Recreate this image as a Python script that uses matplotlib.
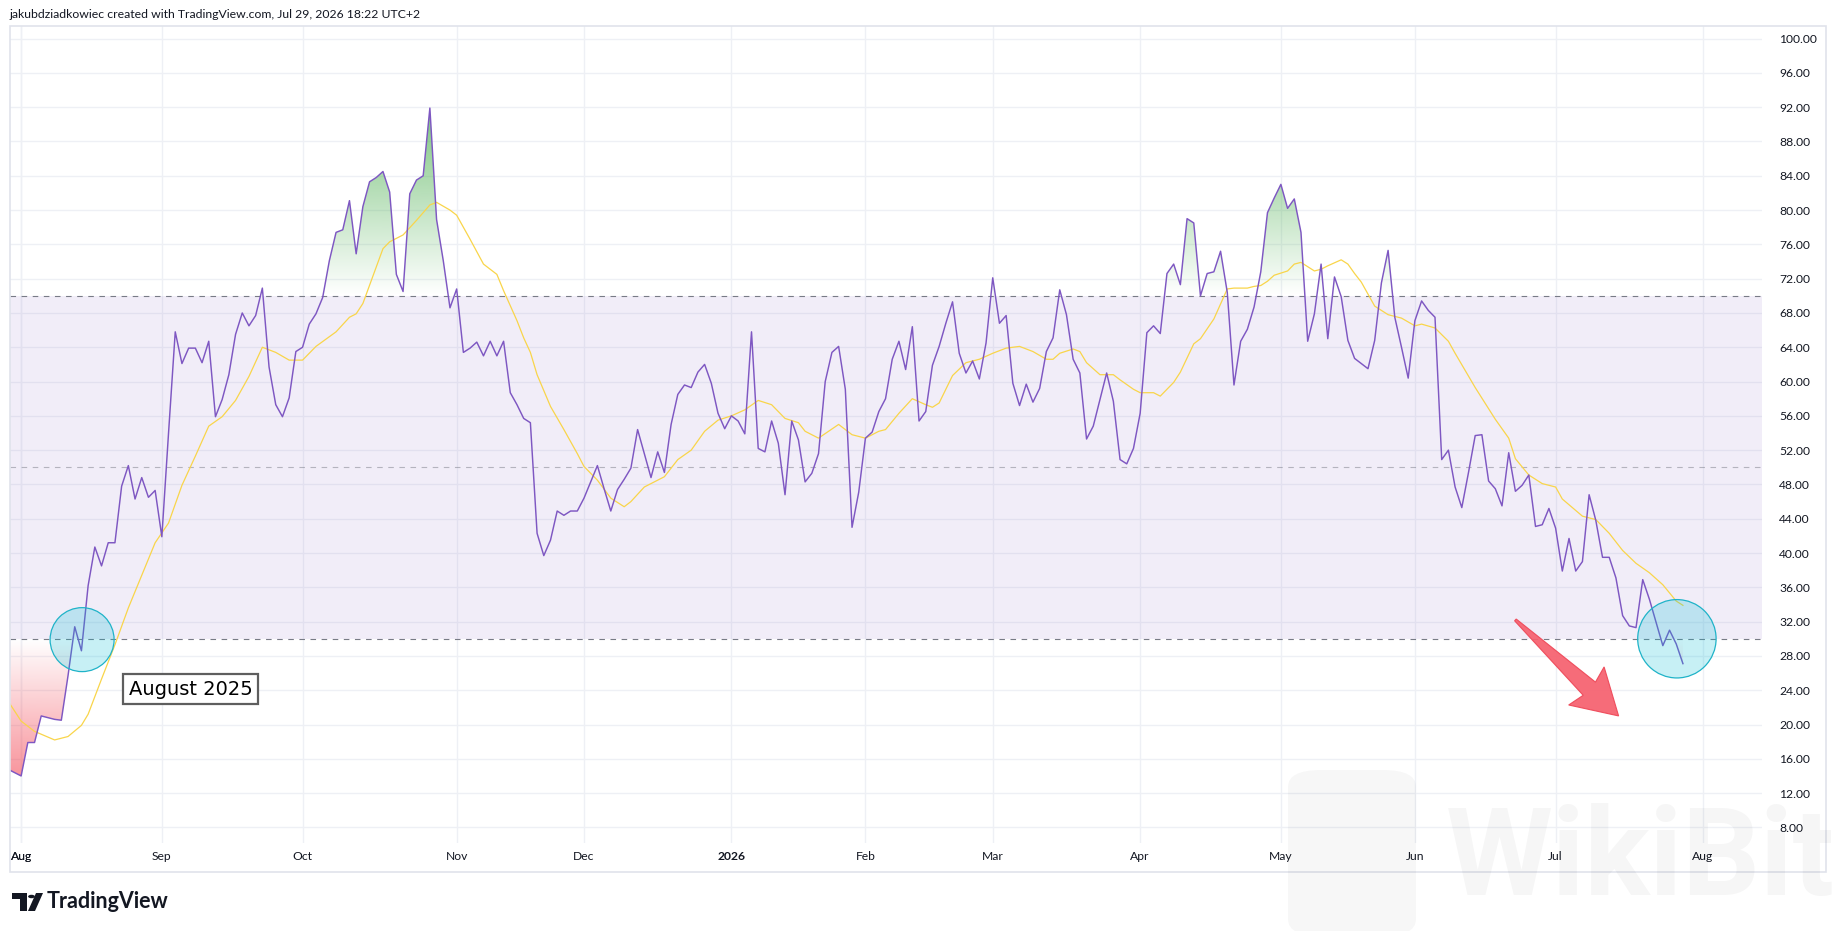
import numpy as np
import pandas as pd
import matplotlib
matplotlib.use('Agg')
import matplotlib.pyplot as plt
from matplotlib.path import Path
from matplotlib.patches import Ellipse, Rectangle, FancyBboxPatch, Polygon, Circle

# exchange calendar: weekdays minus these holidays
holidays = ['2025-09-01', '2025-11-27', '2025-12-25', '2026-01-01', '2026-01-19',
            '2026-02-16', '2026-04-03', '2026-05-25', '2026-06-19', '2026-07-03']
first_day = '2025-07-30'

# daily RSI(14), one value per session from first_day to Jul 29 2026
rsi = [
    14.8, 14.4,
    # Aug 2025
    14.0, 17.9, 17.9, 21.0, 20.8, 20.6, 20.5, 25.7, 31.4, 28.6, 36.2, 40.7, 38.5, 41.2,
    41.2, 47.8, 50.2, 46.3, 48.8, 46.5, 47.3,
    # Sep
    41.9, 54.0, 65.8, 62.1, 63.9, 63.9, 62.2, 64.7, 55.9, 57.9, 60.8, 65.5, 68.0, 66.5,
    67.7, 70.9, 61.7, 57.3, 55.9, 58.1, 63.5,
    # Oct
    64.0, 66.7, 67.9, 69.8, 74.1, 77.4, 77.7, 81.1, 74.9, 80.4, 83.3, 83.8, 84.5, 82.1,
    72.5, 70.5, 81.9, 83.5, 84.0, 91.9, 78.9, 74.1, 68.6,
    # Nov
    70.8, 63.4, 63.9, 64.6, 63.0, 64.7, 63.0, 64.7, 58.7, 57.3, 55.7, 55.2, 42.3, 39.7,
    41.5, 44.9, 44.4, 44.9, 44.9,
    # Dec
    46.4, 48.3, 50.2, 47.5, 44.9, 47.4, 48.6, 49.9, 54.4, 51.6, 48.8, 51.8, 49.4, 55.0,
    58.5, 59.6, 59.3, 61.1, 62.0, 59.8, 56.3, 54.5,
    # Jan 2026
    56.0, 55.4, 53.9, 65.8, 52.2, 51.8, 55.4, 52.8, 46.8, 55.4, 53.2, 48.3, 49.3, 51.6,
    60.0, 63.4, 64.1, 59.1, 43.0, 47.1,
    # Feb
    53.4, 54.1, 56.5, 58.0, 62.6, 64.7, 61.4, 66.4, 55.4, 56.5, 61.9, 64.1, 66.8, 69.3,
    63.3, 61.0, 62.4, 60.3, 64.5,
    # Mar
    72.1, 66.8, 67.7, 59.8, 57.2, 59.7, 57.6, 59.2, 63.5, 65.1, 70.7, 67.8, 62.6, 61.0,
    53.3, 54.8, 57.9, 61.0, 57.7, 50.9, 50.4, 52.2,
    # Apr
    56.3, 65.7, 66.5, 65.6, 72.6, 73.7, 71.3, 79.0, 78.5, 70.0, 72.6, 72.8, 75.2, 70.4,
    59.6, 64.7, 66.1, 68.7, 72.8, 79.7, 81.4,
    # May
    83.0, 80.2, 81.3, 77.4, 64.7, 67.9, 73.7, 65.0, 72.2, 69.9, 64.8, 62.7, 62.1, 61.5,
    64.8, 71.5, 75.3, 67.5, 64.0, 60.4,
    # Jun
    67.1, 69.4, 68.3, 67.5, 50.9, 52.0, 47.7, 45.3, 49.4, 53.7, 53.8, 48.4, 47.5, 45.5,
    51.7, 47.2, 47.9, 49.1, 43.1, 43.3, 45.2,
    # Jul
    42.9, 37.9, 41.7, 37.9, 39.0, 46.8, 43.8, 39.5, 39.5, 37.1, 32.7, 31.5, 31.3, 36.9,
    34.6, 31.9, 29.2, 31.0, 29.4, 27.1,
]

# RSI-based moving average (yellow), read at these sessions
ma_dates = [
    '2025-07-30', '2025-08-01', '2025-08-05', '2025-08-08', '2025-08-12', '2025-08-14',
    '2025-08-15', '2025-08-19', '2025-08-21', '2025-08-25', '2025-08-27', '2025-08-29',
    '2025-09-03', '2025-09-05', '2025-09-09', '2025-09-11', '2025-09-15', '2025-09-17',
    '2025-09-19', '2025-09-23', '2025-09-25', '2025-09-29', '2025-10-01', '2025-10-03',
    '2025-10-08', '2025-10-10', '2025-10-13', '2025-10-14', '2025-10-17', '2025-10-20',
    '2025-10-22', '2025-10-24', '2025-10-28', '2025-10-29', '2025-10-31', '2025-11-03',
    '2025-11-05', '2025-11-07', '2025-11-11', '2025-11-12', '2025-11-14', '2025-11-17',
    '2025-11-18', '2025-11-19', '2025-11-21', '2025-11-25', '2025-11-28', '2025-12-01',
    '2025-12-03', '2025-12-05', '2025-12-09', '2025-12-10', '2025-12-12', '2025-12-16',
    '2025-12-17', '2025-12-19', '2025-12-23', '2025-12-26', '2025-12-30', '2026-01-02',
    '2026-01-06', '2026-01-08', '2026-01-12', '2026-01-14', '2026-01-16', '2026-01-20',
    '2026-01-22', '2026-01-27', '2026-01-29', '2026-02-02', '2026-02-04', '2026-02-05',
    '2026-02-09', '2026-02-11', '2026-02-13', '2026-02-17', '2026-02-18', '2026-02-20',
    '2026-02-24', '2026-02-26', '2026-03-02', '2026-03-04', '2026-03-06', '2026-03-10',
    '2026-03-12', '2026-03-13', '2026-03-16', '2026-03-18', '2026-03-19', '2026-03-20',
    '2026-03-24', '2026-03-26', '2026-03-27', '2026-03-31', '2026-04-01', '2026-04-06',
    '2026-04-07', '2026-04-09', '2026-04-10', '2026-04-14', '2026-04-15', '2026-04-17',
    '2026-04-21', '2026-04-22', '2026-04-24', '2026-04-27', '2026-04-28', '2026-04-29',
    '2026-04-30', '2026-05-04', '2026-05-05', '2026-05-06', '2026-05-08', '2026-05-11',
    '2026-05-12', '2026-05-14', '2026-05-15', '2026-05-18', '2026-05-19', '2026-05-20',
    '2026-05-21', '2026-05-26', '2026-05-28', '2026-06-01', '2026-06-02', '2026-06-04',
    '2026-06-08', '2026-06-09', '2026-06-12', '2026-06-17', '2026-06-22', '2026-06-23',
    '2026-06-25', '2026-06-29', '2026-07-01', '2026-07-02', '2026-07-08', '2026-07-10',
    '2026-07-14', '2026-07-16', '2026-07-20', '2026-07-22', '2026-07-24', '2026-07-28',
    '2026-07-29',
]
ma_vals = [
    22.8, 20.4, 19.2, 18.2, 18.6, 19.9,
    21.2, 25.3, 29.3, 33.6, 37.4, 41.2,
    43.5, 47.9, 51.3, 54.8, 55.9, 57.8,
    60.6, 64.0, 63.4, 62.5, 62.5, 64.1,
    65.8, 67.5, 67.9, 69.1, 75.5, 76.3,
    77.1, 78.8, 80.6, 80.9, 80.0, 79.4,
    76.6, 73.7, 72.5, 70.6, 67.1, 65.1,
    63.4, 60.8, 57.1, 54.4, 51.6, 50.1,
    48.5, 46.4, 45.4, 46.0, 47.7, 48.5,
    48.9, 50.9, 52.0, 54.2, 55.5, 56.0,
    56.7, 57.8, 57.3, 55.7, 55.2, 54.2,
    53.4, 55.0, 53.8, 53.4, 54.2, 54.4,
    56.3, 58.0, 57.3, 57.0, 57.5, 60.7,
    62.2, 62.6, 63.3, 63.9, 64.1, 63.5,
    62.6, 62.6, 63.3, 63.8, 63.5, 62.2,
    60.8, 60.8, 60.2, 59.1, 58.7, 58.7,
    58.3, 59.9, 61.1, 64.4, 65.0, 67.3,
    70.8, 70.9, 70.9, 71.1, 71.2, 71.7,
    72.4, 72.9, 73.7, 73.9, 72.9, 73.1,
    73.5, 74.2, 73.7, 72.6, 71.6, 70.2,
    68.8, 67.8, 67.4, 66.5, 66.7, 66.25,
    64.7, 63.3, 59.3, 55.6, 53.4, 51.0,
    49.1, 48.1, 47.7, 46.3, 44.3, 43.9,
    42.3, 40.3, 38.8, 37.7, 36.3, 34.4,
    33.9,
]

y_ticks = list(range(8, 101, 4))
month_abbr = ['Jan', 'Feb', 'Mar', 'Apr', 'May', 'Jun', 'Jul', 'Aug', 'Sep', 'Oct', 'Nov', 'Dec']
header = 'jakubdziadkowiec created with TradingView.com, Jul 29, 2026 18:22 UTC+2'
note = 'August 2025'

# colours
PURPLE = '#7E57C2'
YELLOW = '#F9D54A'
GRID = '#EEF0F5'
TXT = '#131722'

# sessions -> bar index (TradingView spaces bars evenly, no gaps)
days = pd.bdate_range(first_day, '2026-08-14')
days = days[~days.isin(pd.to_datetime(holidays))]
bar = pd.Series(np.arange(len(days)), index=days)

x = np.arange(len(rsi))
y = np.array(rsi)
mx = bar[pd.to_datetime(ma_dates)].values
my = np.array(ma_vals)

W, H = 1835, 931
fig = plt.figure(figsize=(W / 100, H / 100), dpi=100)
fig.patch.set_facecolor('white')
ax = fig.add_axes([10 / W, 1 - 843 / H, 1752 / W, 817 / H])
for s in ax.spines.values():
    s.set_visible(False)

p0 = bar[pd.Timestamp('2025-08-01')]
xlim = (p0 - 1.66, p0 + 259.8)
ylim = (6.18, 101.47)

# grid
month_start = [i for i in range(1, len(days)) if days[i].month != days[i - 1].month]
month_start = [i for i in month_start if xlim[0] <= i <= xlim[1]]
if xlim[0] <= p0:
    month_start = [p0] + month_start
for v in y_ticks:
    ax.axhline(v, color=GRID, lw=1, zorder=0)
for i in month_start:
    ax.axvline(i, color=GRID, lw=1, zorder=0)

# 30-70 band and levels
ax.axhspan(30, 70, color=PURPLE, alpha=0.1, lw=0, zorder=1)
for lvl, a in [(70, 1.0), (50, 0.5), (30, 1.0)]:
    ax.axhline(lvl, color='#787B86', alpha=a, lw=0.8, dashes=(5, 5), zorder=3)


def gradient_fill(level, lo, hi, rgb, above):
    if above:
        coll = ax.fill_between(x, y, level, where=y > level, interpolate=True, lw=0)
        alpha = np.linspace(0, 1, 256)
    else:
        coll = ax.fill_between(x, y, level, where=y < level, interpolate=True, lw=0)
        alpha = np.linspace(1, 0, 256)
    img = np.zeros((256, 1, 4))
    img[:, 0, :3] = rgb
    img[:, 0, 3] = alpha
    im = ax.imshow(img, extent=(x[0], x[-1], lo, hi), origin='lower', aspect='auto',
                   interpolation='bilinear', zorder=2)
    path = Path.make_compound_path(*coll.get_paths())
    im.set_clip_path(path, ax.transData)
    coll.remove()


gradient_fill(70, 70, 100, (76 / 255, 175 / 255, 80 / 255), True)
gradient_fill(30, 0, 30, (242 / 255, 54 / 255, 69 / 255), False)

ax.plot(mx, my, color=YELLOW, lw=0.9, zorder=4)
ax.plot(x, y, color=PURPLE, lw=1.05, zorder=5)

ax.set_xlim(*xlim)
ax.set_ylim(*ylim)

# annotations: circles
for cx, cy, w, h in [(p0 + 9.1, 29.9, 9.55, 7.46), (p0 + 247.1, 30.0, 11.7, 9.14)]:
    ax.add_patch(Ellipse((cx, cy), w, h, fc='#00BCD4', alpha=0.22, lw=0, zorder=6))
    ax.add_patch(Ellipse((cx, cy), w, h, fc='none', ec='#1FB3C8', lw=0.9, zorder=6))

ax.text(p0 + 25.3, 24.1, note, fontsize=14, color='black', ha='center', va='center',
        family='DejaVu Sans', zorder=7,
        bbox=dict(boxstyle='square,pad=0.28', fc='white', ec='#5E5E5E', lw=1.6))

# fat arrow (tapered shaft + wide head), shaped in pixels
t_px = ax.transData.transform((p0 + 223.0, 32.2))
h_px = ax.transData.transform((p0 + 238.4, 21.0))
u = (h_px - t_px) / np.hypot(*(h_px - t_px))
n = np.array([-u[1], u[0]])
base = h_px - 40 * u
pts = [t_px + 1.2 * n, base + 9 * n, base + 26 * n - 4 * u, h_px,
       base - 26 * n - 4 * u, base - 9 * n, t_px - 1.2 * n]
pts = ax.transData.inverted().transform(np.array(pts))
ax.add_patch(Polygon(pts, closed=True, fc='#F6606E', ec='#EE4656', lw=0.8, alpha=0.92,
                     joinstyle='miter', zorder=7))

# axes labels
ax.yaxis.tick_right()
ax.set_yticks(y_ticks)
ax.set_yticklabels([f'{v:.2f}' for v in y_ticks])
ax.tick_params(axis='y', length=0, pad=12.5, labelsize=8.7, labelcolor=TXT)
for t in ax.get_yticklabels():
    t.set_family('Lato')

ax.set_xticks(month_start)
labels = []
for i in month_start:
    d = days[i]
    labels.append(str(d.year) if d.month == 1 else month_abbr[d.month - 1])
ax.set_xticklabels(labels)
ax.tick_params(axis='x', length=0, pad=6, labelsize=8.7, labelcolor=TXT)
for t, i in zip(ax.get_xticklabels(), month_start):
    t.set_family('Lato')
    if days[i].month == 1:
        t.set_fontweight('bold')

# outer frame, header, logo, watermark
fig.add_artist(Rectangle((9.5 / W, 1 - 871.5 / H), 1816 / W, 846 / H, transform=fig.transFigure,
                         fill=False, ec='#E0E3EB', lw=1.2))
fig.text(9 / W, 1 - 14 / H, header, fontsize=8.8, color=TXT, va='center', ha='left', family='Lato')

tf = fig.transFigure
fig.add_artist(Rectangle((12 / W, 1 - 899 / H), 15 / W, 6 / H, transform=tf, fc=TXT, lw=0))
fig.add_artist(Rectangle((20 / W, 1 - 911 / H), 7 / W, 18 / H, transform=tf, fc=TXT, lw=0))
fig.add_artist(Circle((31.5 / W, 1 - 896.5 / H), 3.4 / W, transform=tf, fc=TXT, lw=0))
fig.add_artist(Polygon([(36 / W, 1 - 893 / H), (43 / W, 1 - 893 / H), (35 / W, 1 - 911 / H),
                        (28 / W, 1 - 911 / H)], closed=True, transform=tf, fc=TXT, lw=0))
fig.text(47 / W, 1 - 901 / H, 'TradingView', fontsize=15.5, fontweight='bold', color=TXT,
         va='center', ha='left', family='Lato')

fig.add_artist(FancyBboxPatch((1288 / W, 1 - 936 / H), 128 / W, 166 / H,
                              boxstyle='round,pad=0,rounding_size=0.018', transform=tf,
                              fc='black', alpha=0.03, lw=0))
fig.text(1446 / W, 1 - 862 / H, 'WikiBit', fontsize=88, fontweight='bold', color='black',
         alpha=0.035, va='center', ha='left', family='Roboto')

fig.savefig('out.png', dpi=100, facecolor='white')
